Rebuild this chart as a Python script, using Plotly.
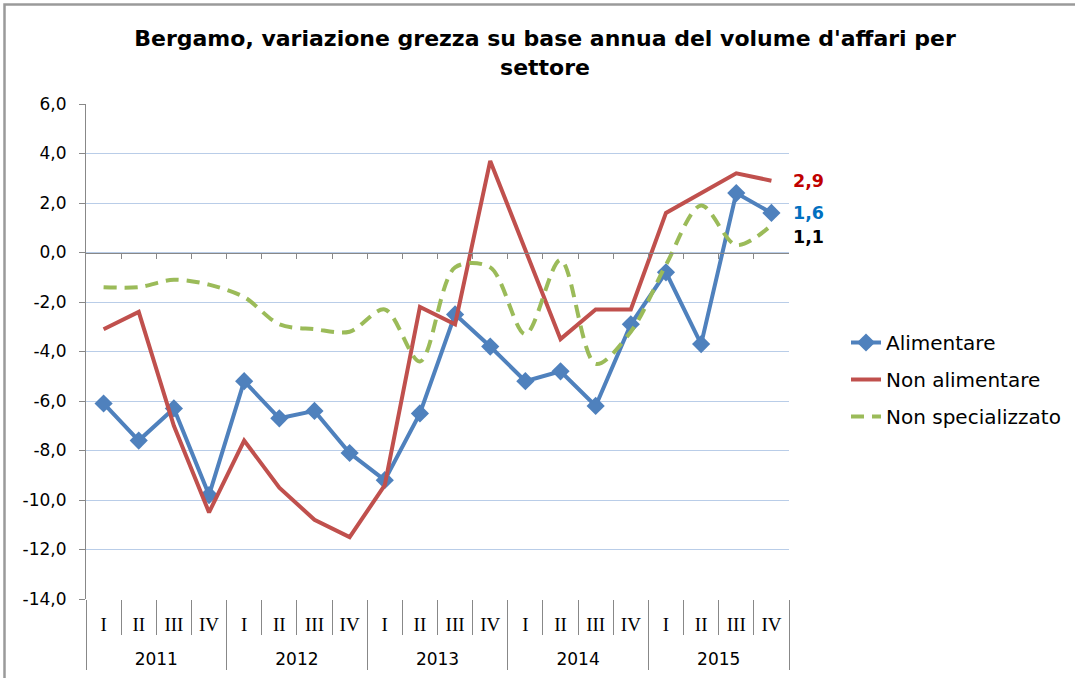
import plotly.graph_objects as go

# Quarterly year-on-year change of turnover, Bergamo, by sector
years = ["2011", "2012", "2013", "2014", "2015"]
quarters = ["I", "II", "III", "IV"]

alimentare = [-6.1, -7.6, -6.3, -9.8, -5.2, -6.7, -6.4, -8.1, -9.2, -6.5,
              -2.5, -3.8, -5.2, -4.8, -6.2, -2.9, -0.8, -3.7, 2.4, 1.6]
non_alimentare = [-3.1, -2.4, -7.0, -10.5, -7.6, -9.5, -10.8, -11.5, -9.4, -2.2,
                  -2.9, 3.7, 0.1, -3.5, -2.3, -2.3, 1.6, 2.4, 3.2, 2.9]
non_specializzato = [-1.4, -1.4, -1.1, -1.3, -1.8, -2.9, -3.1, -3.2, -2.3, -4.4,
                     -0.6, -0.6, -3.3, -0.3, -4.5, -3.2, -0.5, 1.9, 0.3, 1.1]

y_ticks = [6, 4, 2, 0, -2, -4, -6, -8, -10, -12, -14]

SANS = "DejaVu Sans"
SERIF = "Liberation Serif"
GRID = "#B9CDE8"
AXIS = "#888888"
FRAME = "#9A9A9A"

nq = len(quarters)
n = len(years) * nq
pos = list(range(n))                      # one slot per quarter
q_labels = [q for _ in years for q in quarters]
year_centers = [i * nq + (nq - 1) / 2 for i in range(len(years))]
q_bounds = [i + 0.5 for i in range(n - 1)]
year_bounds = [i * nq - 0.5 for i in range(len(years) + 1)]
x_range = [-0.5, n - 0.5]


def it(v):
    return f"{v:.1f}".replace(".", ",")


fig = go.Figure()
fig.add_trace(go.Scatter(
    x=pos, y=alimentare, name="Alimentare", mode="lines+markers",
    line=dict(color="#4F81BD", width=4),
    marker=dict(symbol="diamond", size=14, color="#4F81BD"),
    legendgroup="a"))
fig.add_trace(go.Scatter(
    x=pos, y=non_alimentare, name="Non alimentare", mode="lines",
    line=dict(color="#C0504D", width=4), legendgroup="b"))
fig.add_trace(go.Scatter(
    x=pos, y=non_specializzato, name="Non specializzato", mode="lines",
    line=dict(color="#9BBB59", width=4, dash="13px,8px", shape="spline", smoothing=0.9),
    legendgroup="c"))

# helper traces so the overlaid axes (zero crossing line, year row) are drawn
for ax in ("x2", "x3"):
    fig.add_trace(go.Scatter(x=[0], y=[0], xaxis=ax, mode="markers",
                             marker=dict(opacity=0), showlegend=False, hoverinfo="skip"))

# end-of-series value labels
for vals, col, dy in [(non_alimentare, "#C00000", 0), (alimentare, "#0070C0", 0),
                      (non_specializzato, "#000000", -12)]:
    fig.add_annotation(x=pos[-1], y=vals[-1], xref="x", yref="y", text=f"<b>{it(vals[-1])}</b>",
                       showarrow=False, xanchor="left", xshift=20, yshift=dy,
                       font=dict(family=SANS, size=17.5, color=col))

fig.update_layout(
    width=1075, height=678,
    paper_bgcolor="white", plot_bgcolor="white",
    margin=dict(l=86, r=286, t=104, b=79, autoexpand=False),
    font=dict(family=SANS, size=17, color="#000000"),
    title=dict(text="<b>Bergamo, variazione grezza su base annua del volume d'affari per<br>settore</b>",
               x=0.507, xref="container", xanchor="center",
               y=1 - 46 / 678, yref="container", yanchor="top",
               font=dict(family=SANS, size=22, color="#000000")),
    showlegend=True,
    legend=dict(x=846 / 1075, xref="container", y=1 - 323 / 678, yref="container",
                xanchor="left", yanchor="top", traceorder="grouped", tracegroupgap=8,
                font=dict(family=SANS, size=20, color="#000000"),
                bgcolor="rgba(0,0,0,0)", itemwidth=30),
    # quarter row with separators
    xaxis=dict(range=x_range, showgrid=False, showline=False, zeroline=False, automargin=False,
               tickmode="array", tickvals=pos, ticktext=q_labels, ticks="",
               tickfont=dict(family=SERIF, size=19, color="#000000"),
               ticklabelstandoff=12,
               minor=dict(tickmode="array", tickvals=q_bounds, ticks="outside",
                          ticklen=35, tickcolor=AXIS, tickwidth=1, showgrid=False)),
    # zero crossing line with boundary tick marks
    xaxis2=dict(overlaying="x", anchor="free", position=0.7, range=x_range, automargin=False,
                showgrid=False, zeroline=False, showline=True, linecolor=AXIS, linewidth=1,
                ticks="outside", ticklen=5, tickcolor=AXIS,
                tickmode="array", tickvals=q_bounds, showticklabels=False),
    # year row with group dividers
    xaxis3=dict(overlaying="x", anchor="free", position=0, range=x_range, automargin=False,
                showgrid=False, zeroline=False, showline=False,
                tickmode="array", tickvals=year_centers, ticktext=years, ticks="",
                tickfont=dict(family=SANS, size=17, color="#000000"),
                ticklabelstandoff=48,
                minor=dict(tickmode="array", tickvals=year_bounds, ticks="outside",
                           ticklen=70, tickcolor=AXIS, tickwidth=1, showgrid=False)),
    yaxis=dict(range=[-14, 6], tickmode="array", tickvals=y_ticks, ticktext=[it(v) for v in y_ticks],
               showgrid=True, gridcolor=GRID, gridwidth=1, zeroline=False, automargin=False,
               showline=True, linecolor=AXIS, linewidth=1,
               ticks="outside", ticklen=6, tickcolor=AXIS, ticklabelstandoff=9,
               tickfont=dict(family=SANS, size=17, color="#000000")),
    # chart frame (top and left edges)
    shapes=[
        dict(type="rect", xref="paper", yref="paper",
             x0=-81.5 / 703, x1=1.5, y0=-0.5, y1=1 + 99.5 / 495,
             line=dict(color=FRAME, width=2.5), fillcolor="rgba(0,0,0,0)", layer="above"),
    ],
)

fig.write_html("out.html")
